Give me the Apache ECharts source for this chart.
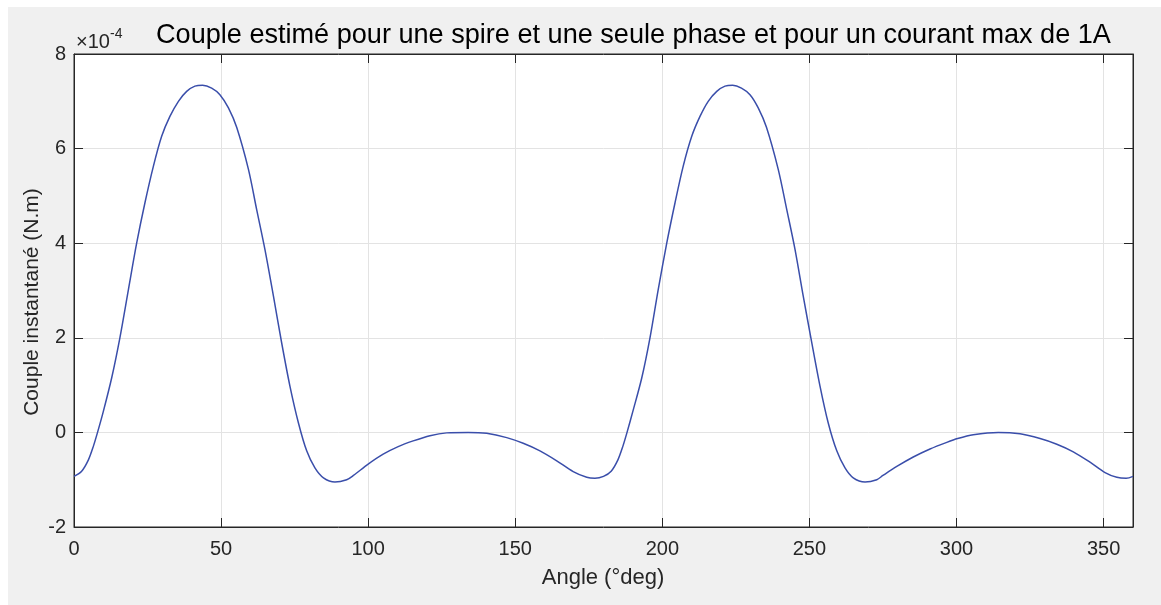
<!DOCTYPE html>
<html>
<head>
<meta charset="utf-8">
<script src="https://cdn.jsdelivr.net/npm/echarts@6/dist/echarts.min.js"></script>
<style>
  html, body { margin: 0; padding: 0; background: #fff; }
  .frame {
    position: absolute;
    left: 8px;
    top: 7px;
    width: 1153px;
    height: 598px;
    background: #f0f0f0;
  }
  #chart {
    position: absolute;
    left: 0;
    top: 0;
    width: 1161px;
    height: 605px;
  }
</style>
</head>
<body>
<div class="frame"></div>
<div id="chart"></div>
<script>
// angle (deg) / couple (x 1e-4 N.m)
var angles = [
  0, 2.6, 4.9, 6.6, 8.0, 10.0, 12.8, 15.6, 18.5, 21.3, 24.1, 27.0, 29.8, 32.6, 35.5,
  38.3, 41.1, 43.7, 46.8, 49.6, 52.5, 55.3, 59.3, 62.1, 64.9, 67.8, 70.6,
  73.4, 76.3, 79.1, 81.9, 84.8, 88.7, 92.7, 95.0, 100.0, 105.1, 110.2, 115.3,
  121.0, 126.7, 134.0, 140.3, 147.1, 152.7, 158.4, 164.1, 169.7, 174.3, 177.1,
  180.0, 182.6, 184.9, 186.6, 188.0, 190.0, 193.0, 195.8, 198.6, 201.5, 204.3, 207.1,
  210.0, 212.8, 215.6, 218.5, 221.3, 223.9, 226.9, 229.8, 232.6, 235.4, 239.4,
  242.3, 245.1, 247.9, 250.5, 253.6, 256.4, 259.3, 262.1, 264.9, 268.9, 272.9,
  275.0, 279.7, 285.3, 291.0, 296.7, 300.4, 305.7, 314.2, 321.6, 328.4, 334.1,
  339.7, 345.4, 350.5, 354.5, 357.7, 360.0
];
var couple = [
  -0.93, -0.82, -0.58, -0.29, 0.0, 0.45, 1.15, 2.0, 3.02, 4.0, 4.85, 5.63, 6.26, 6.68, 7.0,
  7.21, 7.32, 7.34, 7.28, 7.14, 6.86, 6.45, 5.56, 4.71, 3.87, 2.88, 1.89,
  0.98, 0.2, -0.39, -0.75, -0.96, -1.05, -1.0, -0.91, -0.67, -0.46, -0.30, -0.18,
  -0.07, -0.01, 0.0, -0.02, -0.11, -0.23, -0.39, -0.60, -0.83, -0.95, -0.97,
  -0.93, -0.82, -0.58, -0.29, 0.0, 0.45, 1.15, 2.0, 3.02, 4.0, 4.85, 5.63,
  6.26, 6.68, 7.0, 7.21, 7.32, 7.34, 7.28, 7.14, 6.86, 6.45, 5.56,
  4.71, 3.87, 2.88, 2.0, 0.98, 0.2, -0.39, -0.75, -0.96, -1.05, -1.0,
  -0.91, -0.72, -0.52, -0.35, -0.21, -0.13, -0.05, 0.0, -0.03, -0.13, -0.25,
  -0.41, -0.63, -0.85, -0.95, -0.97, -0.93
];
var xTicks = { min: 0, max: 360, interval: 50 };
var yTicks = { min: -2, max: 8, interval: 2 };

var font = "'Liberation Sans', Arial, Helvetica, sans-serif";
var axisColor = "#262626";

var myChart = echarts.init(document.getElementById("chart"));

// un axe (graduations vers l'interieur, comme le "box on" de matlab)
function makeAxis(ticks, pos, withLabels) {
  return {
    type: "value",
    position: pos,
    min: ticks.min,
    max: ticks.max,
    interval: ticks.interval,
    axisLine: { show: true, onZero: false, lineStyle: { color: axisColor, width: 1 } },
    axisTick: { show: true, inside: true, length: 9, lineStyle: { color: axisColor } },
    axisLabel: {
      show: withLabels,
      color: axisColor,
      fontSize: 20,
      fontFamily: font,
      margin: pos == "bottom" ? 12 : 8,
      showMaxLabel: pos == "bottom" ? false : true,
    },
    splitLine: {
      show: withLabels,
      lineStyle: { color: "#e3e3e3", width: 1 },
    },
  };
}

var option = {
  animation: false,
  title: {
    text: "Couple estimé pour une spire et une seule phase et pour un courant max de 1A",
    left: 151,
    top: 17,
    textStyle: {
      color: "#000",
      fontSize: 27.1,
      fontWeight: "normal",
      fontFamily: font,
    },
  },
  grid: {
    left: 74,
    top: 54,
    right: 28,
    bottom: 78,
    show: true,
    backgroundColor: "#fff",
    borderColor: axisColor,
    borderWidth: 1,
  },
  xAxis: [makeAxis(xTicks, "bottom", true), makeAxis(xTicks, "top", false)],
  yAxis: [makeAxis(yTicks, "left", true), makeAxis(yTicks, "right", false)],
  graphic: [
    {
      type: "text",
      left: 76,
      top: 32,
      style: { text: "×10", fontSize: 20, fontFamily: font, fill: axisColor },
    },
    {
      type: "text",
      left: 110,
      top: 27,
      style: { text: "-4", fontSize: 14, fontFamily: font, fill: axisColor },
    },
    {
      type: "text",
      x: 32,
      y: 302,
      rotation: Math.PI / 2,
      style: {
        text: "Couple instantané (N.m)",
        fontSize: 21,
        fontFamily: font,
        fill: axisColor,
        align: "center",
        verticalAlign: "middle",
      },
    },
    {
      type: "text",
      x: 603,
      y: 578,
      style: {
        text: "Angle (°deg)",
        fontSize: 22,
        fontFamily: font,
        fill: axisColor,
        align: "center",
        verticalAlign: "middle",
      },
    },
  ],
  series: [
    {
      type: "line",
      data: angles.map(function (a, i) {
        return [a, couple[i]];
      }),
      showSymbol: false,
      smooth: 0.3,
      lineStyle: { color: "#3a4eaa", width: 1.5 },
    },
  ],
};

myChart.setOption(option);
</script>
</body>
</html>
